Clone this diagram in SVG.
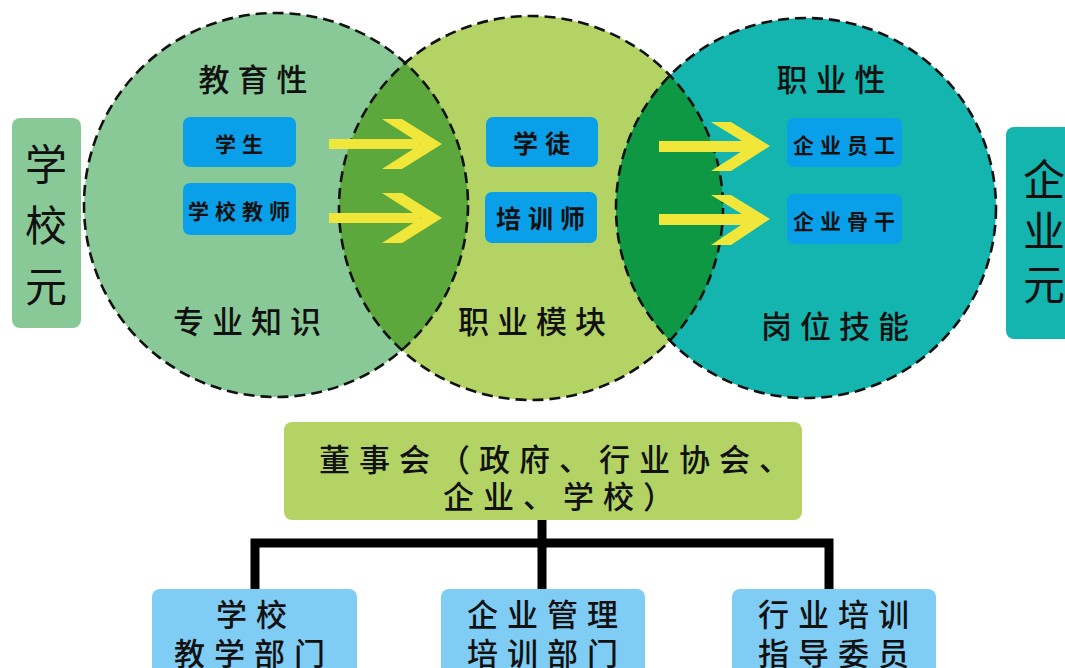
<svg xmlns="http://www.w3.org/2000/svg" width="1065" height="668" viewBox="0 0 1065 668">
<style>
text{font-family:"Noto Sans CJK SC","Noto Sans",sans-serif;fill:#111;text-anchor:middle;dominant-baseline:central}
.big{font-size:31px;letter-spacing:8px;font-weight:500}
.side{font-size:42px}
.bl{fill:#0aa0e9}
.b1{font-size:21px;font-weight:bold;letter-spacing:6px}
.b2{font-size:25px;font-weight:bold;letter-spacing:7px}
.org{font-size:31px;letter-spacing:9px;font-weight:500}
.dash{fill:none;stroke:#111;stroke-width:2.6;stroke-dasharray:11 6}
.arr{fill:#f1e73a}
.conn{stroke:#000;stroke-width:9;fill:none}
</style>
<defs>
<clipPath id="c1"><circle cx="276" cy="205" r="192"/></clipPath>
<clipPath id="c3"><circle cx="806" cy="208" r="190"/></clipPath>
</defs>
<rect width="1065" height="668" fill="#fff"/>
<g id="circle-edu">
<circle cx="276" cy="205" r="192" fill="#89c997"/>
</g>
<g id="circle-mod">
<circle cx="531" cy="208" r="192" fill="#b3d465"/>
<circle cx="531" cy="208" r="192" fill="#5da83c" clip-path="url(#c1)"/>
</g>
<g id="circle-job">
<circle cx="806" cy="208" r="190" fill="#14b5ae"/>
<circle cx="531" cy="208" r="192" fill="#0f9844" clip-path="url(#c3)"/>
</g>
<g id="outlines">
<circle class="dash" cx="276" cy="205" r="192"/>
<circle class="dash" cx="531" cy="208" r="192"/>
<circle class="dash" cx="806" cy="208" r="190"/>
</g>
<g id="labels">
<text class="big" x="257" y="77">教育性</text>
<text class="big" x="251" y="319">专业知识</text>
<text class="big" x="536" y="319">职业模块</text>
<text class="big" x="835" y="77">职业性</text>
<text class="big" x="839" y="324">岗位技能</text>
</g>
<g id="school-unit">
<rect x="12" y="118" width="69" height="210" rx="8" fill="#89c997"/>
<text class="side" x="46" y="161">学</text>
<text class="side" x="46" y="222">校</text>
<text class="side" x="46" y="283">元</text>
</g>
<g id="enterprise-unit">
<rect x="1006" y="127" width="70" height="212" rx="8" fill="#14b5ae"/>
<text class="side" x="1044" y="176">企</text>
<text class="side" x="1044" y="228">业</text>
<text class="side" x="1044" y="281">元</text>
</g>
<g id="student"><rect class="bl" x="183" y="117" width="113" height="50" rx="7"/><text class="b1" x="242" y="143">学生</text></g>
<g id="school-teacher"><rect class="bl" x="183" y="183" width="113" height="52" rx="7"/><text class="b1" x="242" y="210">学校教师</text></g>
<g id="apprentice"><rect class="bl" x="486" y="117" width="112" height="50" rx="7"/><text class="b2" x="545" y="142">学徒</text></g>
<g id="trainer"><rect class="bl" x="485" y="192" width="112" height="51" rx="7"/><text class="b2" x="544" y="217">培训师</text></g>
<g id="employee"><rect class="bl" x="787" y="118" width="115" height="49" rx="7"/><text class="b1" x="847" y="144">企业员工</text></g>
<g id="backbone"><rect class="bl" x="787" y="194" width="115" height="50" rx="7"/><text class="b1" x="847" y="220">企业骨干</text></g>
<g id="arrows">
<path class="arr" d="M329 139H420V149H329Z M382 119H402L442 144L402 169H382L421 144Z"/>
<path class="arr" d="M329 213H420V223H329Z M382 193H402L442 218L402 243H382L421 218Z"/>
<path class="arr" d="M659 141H750V152H659Z M711 122H731L770 146L731 171H711L750 146Z"/>
<path class="arr" d="M659 214H750V225H659Z M711 195H731L770 219L731 245H711L750 219Z"/>
</g>
<g id="connectors">
<path class="conn" d="M542 520V543 M255 590V543H829V590 M542 543V590"/>
</g>
<g id="board">
<rect x="284" y="422" width="518" height="98" rx="8" fill="#b3d465"/>
<text class="org" x="559" y="457">董事会（政府、行业协会、</text>
<text class="org" x="563" y="494">企业、学校）</text>
</g>
<g id="school-dept">
<rect x="152" y="589" width="205" height="95" rx="8" fill="#7fcdf4"/>
<text class="org" x="256" y="612">学校</text>
<text class="org" x="254" y="651">教学部门</text>
</g>
<g id="enterprise-dept">
<rect x="441" y="589" width="204" height="95" rx="8" fill="#7fcdf4"/>
<text class="org" x="547" y="612">企业管理</text>
<text class="org" x="547" y="651">培训部门</text>
</g>
<g id="industry-dept">
<rect x="732" y="589" width="204" height="95" rx="8" fill="#7fcdf4"/>
<text class="org" x="838" y="612">行业培训</text>
<text class="org" x="838" y="651">指导委员</text>
</g>
</svg>
